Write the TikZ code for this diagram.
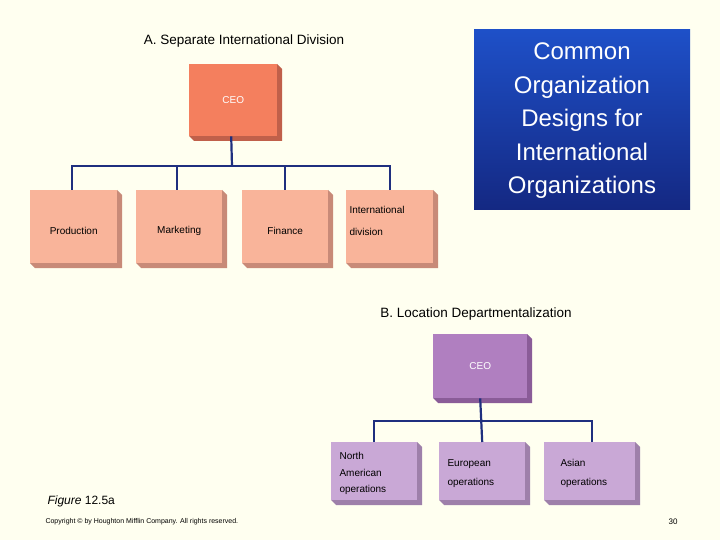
\documentclass[tikz,border=0pt]{standalone}
\usepackage{fontspec}
\setmainfont{Liberation Sans}
\begin{document}
\begin{tikzpicture}[x=1pt,y=-1pt,
  box/.style={draw=none,anchor=north west,inner sep=2pt,font=\fontsize{10}{12}\selectfont},
  conn/.style={draw={rgb,255:red,31;green,47;blue,127},line width=2.2pt}]
\definecolor{bg}{RGB}{255,255,240}
\definecolor{ceoA}{RGB}{244,127,94}\definecolor{ceoAd}{RGB}{192,96,74}
\definecolor{subA}{RGB}{249,180,154}\definecolor{subAd}{RGB}{200,138,120}
\definecolor{ceoB}{RGB}{176,127,192}\definecolor{ceoBd}{RGB}{138,92,152}
\definecolor{subB}{RGB}{201,168,214}\definecolor{subBd}{RGB}{158,128,170}
\definecolor{blueT}{RGB}{30,80,200}\definecolor{blueB}{RGB}{20,40,130}
\fill[bg] (0,0) rectangle (720,540);
\useasboundingbox (0,0) rectangle (720,540);
\newcommand\mkbox[8]{% name, x, y, w, h, fill, dark, text
  \fill[#7] (#2+#4,#3) -- (#2+#4+5,#3+5) -- (#2+#4+5,#3+#5+5) -- (#2+5,#3+#5+5) -- (#2,#3+#5) -- cycle;
  \node[box,fill=#6,minimum width=#4,minimum height=#5] (#1) at (#2,#3) {};
  \node[font=\fontsize{10}{13}\selectfont\bfseries,text=#8] at (#1.center) {};}
% A title
\node[font=\fontsize{13.5}{16}\selectfont] (tA) at (244,41) {A. Separate International Division};
% Blue title
\shade[top color=blueT,bottom color=blueB] (474,30) rectangle (690,210);
\node[align=center,text=white,font=\fontsize{24}{33.5}\selectfont] (tt) at (582,121) {Common\\Organization\\Designs for\\International\\Organizations};
% A boxes
\mkbox{ceo}{189}{64}{88}{72}{ceoA}{ceoAd}{white}
\node[text=white,font=\fontsize{10}{12}\selectfont] at (ceo.center) {CEO};
\mkbox{prod}{30}{190}{87}{73}{subA}{subAd}{black}
\node[font=\fontsize{10}{12}\selectfont] at ([yshift=-4]prod.center) {Production};
\mkbox{mkt}{136}{190}{86}{73}{subA}{subAd}{black}
\node[font=\fontsize{10}{12}\selectfont] at ([yshift=-4]mkt.center) {Marketing};
\mkbox{fin}{242}{190}{86}{73}{subA}{subAd}{black}
\node[font=\fontsize{10}{12}\selectfont] at ([yshift=-4]fin.center) {Finance};
\mkbox{intl}{346}{190}{87}{73}{subA}{subAd}{black}
\node[font=\fontsize{10}{22}\selectfont,align=left,anchor=north west] at (346,203) {International\\division};
\coordinate (jA) at (232,166);
\draw[conn] ([xshift=-2]ceo.south) -- (jA);
\draw[conn] ([xshift=-2]prod.north) |- (jA) -| (intl.north);
\draw[conn] ([xshift=-2]mkt.north) -- ++(0,-24);
\draw[conn] ([xshift=0]fin.north) -- ++(0,-24);
% B
\node[font=\fontsize{13.5}{16}\selectfont] (tB) at (476,314) {B. Location Departmentalization};
\mkbox{ceoB}{433}{334}{94}{64}{ceoB}{ceoBd}{white}
\node[text=white,font=\fontsize{10}{12}\selectfont] at (ceoB.center) {CEO};
\mkbox{na}{331}{442}{86}{58}{subB}{subBd}{black}
\node[font=\fontsize{10}{16.5}\selectfont,align=left,anchor=north west] at (336,449) {North\\American\\operations};
\mkbox{eu}{439}{442}{86}{58}{subB}{subBd}{black}
\node[font=\fontsize{10}{19}\selectfont,align=left,anchor=north west] at (444,456) {European\\operations};
\mkbox{as}{544}{442}{91}{58}{subB}{subBd}{black}
\node[font=\fontsize{10}{19}\selectfont,align=left,anchor=north west] at (557,456) {Asian\\operations};
\coordinate (jB) at (480,421);
\draw[conn] (ceoB.south) -- (eu.north);
\draw[conn] (na.north) |- (jB) -| ([xshift=2]as.north);
% footer
\node[anchor=west,font=\fontsize{12}{14}\selectfont] (fig) at (44,501) {\textit{Figure} 12.5a};
\node[anchor=west,font=\fontsize{7}{9}\selectfont] (copy) at (42,522) {Copyright © by Houghton Mifflin Company. All rights reserved.};
\node[font=\fontsize{8}{10}\selectfont] (pg) at (673,522) {30};
\end{tikzpicture}
\end{document}
